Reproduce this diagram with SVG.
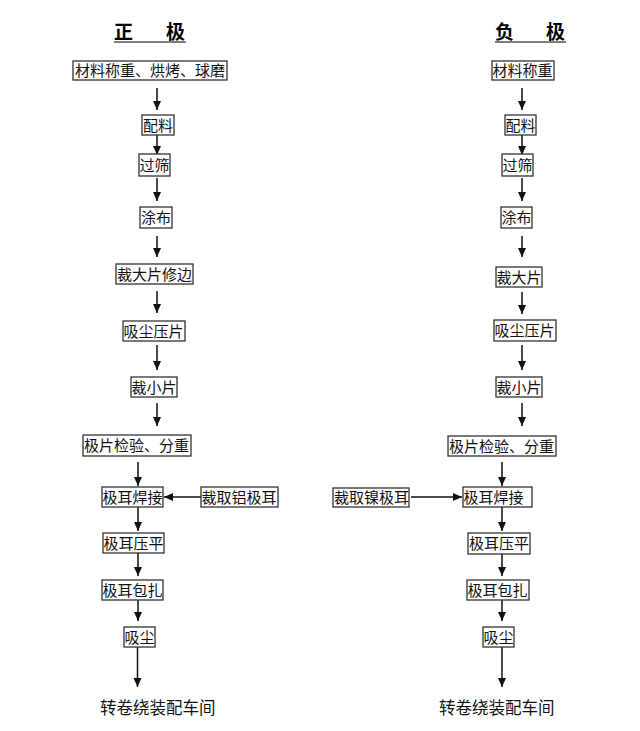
<svg xmlns="http://www.w3.org/2000/svg" width="640" height="731" viewBox="0 0 640 731">
<style>
.box{fill:#fff;stroke:#333;stroke-width:1.3}
.t{font-family:"Noto Sans CJK SC","Noto Sans CJK JP",sans-serif;font-size:15px;fill:#111}
.end{font-family:"Noto Sans CJK SC","Noto Sans CJK JP",sans-serif;font-size:16.5px;fill:#111}
.title{font-family:"Noto Sans CJK SC","Noto Sans CJK JP",sans-serif;font-size:19px;font-weight:bold;fill:#000}
.ul{stroke:#555;stroke-width:1.5}
.c{stroke:#111;stroke-width:1.5;fill:none;marker-end:url(#ah)}
</style>
<defs>
<marker id="ah" markerUnits="userSpaceOnUse" markerWidth="10" markerHeight="9" refX="9" refY="4" orient="auto">
<path d="M0,0 L9,4 L0,8 z" fill="#111"/>
</marker>
</defs>
<rect width="640" height="731" fill="#fff"/>

<g id="title-pos">
<text class="title" x="114" y="39">正</text>
<text class="title" x="166" y="39">极</text>
<line class="ul" x1="114" y1="42" x2="186" y2="42"/>
</g>
<g id="title-neg">
<text class="title" x="495" y="39">负</text>
<text class="title" x="546" y="39">极</text>
<line class="ul" x1="495" y1="42" x2="566" y2="42"/>
</g>

<g id="connectors">
<line class="c" x1="157" y1="88" x2="157" y2="110"/>
<line class="c" x1="157" y1="135" x2="157" y2="155"/>
<line class="c" x1="157" y1="178" x2="157" y2="201"/>
<line class="c" x1="157" y1="236" x2="157" y2="257"/>
<line class="c" x1="157" y1="291" x2="157" y2="313"/>
<line class="c" x1="157" y1="345" x2="157" y2="370"/>
<line class="c" x1="157" y1="403" x2="157" y2="426"/>
<line class="c" x1="138" y1="462" x2="138" y2="486"/>
<line class="c" x1="201" y1="497" x2="164" y2="497"/>
<line class="c" x1="138" y1="507" x2="138" y2="531"/>
<line class="c" x1="138" y1="553" x2="138" y2="576"/>
<line class="c" x1="138" y1="600" x2="138" y2="621"/>
<line class="c" x1="137.5" y1="645" x2="137.5" y2="687"/>

<line class="c" x1="522" y1="88" x2="522" y2="110"/>
<line class="c" x1="522" y1="135" x2="522" y2="155"/>
<line class="c" x1="522" y1="178" x2="522" y2="201"/>
<line class="c" x1="522" y1="236" x2="522" y2="257"/>
<line class="c" x1="522" y1="292" x2="522" y2="314"/>
<line class="c" x1="522" y1="345" x2="522" y2="370"/>
<line class="c" x1="522" y1="403" x2="522" y2="426"/>
<line class="c" x1="502" y1="462" x2="502" y2="486"/>
<line class="c" x1="411" y1="497" x2="462" y2="497"/>
<line class="c" x1="502" y1="507" x2="502" y2="531"/>
<line class="c" x1="502" y1="554" x2="502" y2="576"/>
<line class="c" x1="502" y1="600" x2="502" y2="621"/>
<line class="c" x1="502" y1="645" x2="502" y2="687"/>
</g>

<g id="L1"><rect class="box" x="73" y="61" width="154" height="19"/><text class="t" x="75" y="76">材料称重、烘烤、球磨</text></g>
<g id="L2"><rect class="box" x="142" y="115" width="32" height="20"/><text class="t" x="143" y="130.5">配料</text></g>
<g id="L3"><rect class="box" x="139" y="154" width="31" height="22"/><text class="t" x="139.5" y="170.5">过筛</text></g>
<g id="L4"><rect class="box" x="140" y="207" width="32" height="21"/><text class="t" x="141" y="223">涂布</text></g>
<g id="L5"><rect class="box" x="116" y="264" width="77" height="20"/><text class="t" x="117" y="279.5">裁大片修边</text></g>
<g id="L6"><rect class="box" x="123" y="321" width="62" height="20"/><text class="t" x="123.5" y="336.5">吸尘压片</text></g>
<g id="L7"><rect class="box" x="131" y="377" width="46" height="20"/><text class="t" x="131.5" y="392.5">裁小片</text></g>
<g id="L8"><rect class="box" x="83" y="435" width="108" height="21"/><text class="t" x="84" y="451">极片检验、分重</text></g>
<g id="L9"><rect class="box" x="102" y="487" width="61" height="20"/><text class="t" x="102.5" y="502.5">极耳焊接</text></g>
<g id="L10"><rect class="box" x="201" y="487" width="77" height="20"/><text class="t" x="201.5" y="502.5">裁取铝极耳</text></g>
<g id="L11"><rect class="box" x="103" y="533" width="61" height="20"/><text class="t" x="103.5" y="548.5">极耳压平</text></g>
<g id="L12"><rect class="box" x="102" y="580" width="61" height="20"/><text class="t" x="102.5" y="595.5">极耳包扎</text></g>
<g id="L13"><rect class="box" x="124" y="627" width="31" height="20"/><text class="t" x="124.5" y="642.5">吸尘</text></g>
<g id="L14"><text class="end" x="100" y="713.5">转卷绕装配车间</text></g>

<g id="R1"><rect class="box" x="492" y="61" width="62" height="19"/><text class="t" x="492.5" y="76">材料称重</text></g>
<g id="R2"><rect class="box" x="505" y="115" width="31" height="20"/><text class="t" x="505.5" y="130.5">配料</text></g>
<g id="R3"><rect class="box" x="502" y="154" width="31" height="22"/><text class="t" x="502.5" y="170.5">过筛</text></g>
<g id="R4"><rect class="box" x="501" y="207" width="31" height="21"/><text class="t" x="501.5" y="223">涂布</text></g>
<g id="R5"><rect class="box" x="496" y="267" width="46" height="20"/><text class="t" x="496.5" y="282.5">裁大片</text></g>
<g id="R6"><rect class="box" x="494" y="320" width="62" height="21"/><text class="t" x="494.5" y="336">吸尘压片</text></g>
<g id="R7"><rect class="box" x="496" y="377" width="46" height="20"/><text class="t" x="496.5" y="392.5">裁小片</text></g>
<g id="R8"><rect class="box" x="448" y="436" width="108" height="20"/><text class="t" x="449" y="451.5">极片检验、分重</text></g>
<g id="R9"><rect class="box" x="463" y="487" width="69" height="20"/><text class="t" x="463.5" y="502.5">极耳焊接</text></g>
<g id="R10"><rect class="box" x="333" y="488" width="76" height="19"/><text class="t" x="334" y="503">裁取镍极耳</text></g>
<g id="R11"><rect class="box" x="468" y="533" width="62" height="21"/><text class="t" x="469" y="549">极耳压平</text></g>
<g id="R12"><rect class="box" x="467" y="580" width="62" height="20"/><text class="t" x="467.5" y="595.5">极耳包扎</text></g>
<g id="R13"><rect class="box" x="483" y="627" width="31" height="20"/><text class="t" x="483.5" y="642.5">吸尘</text></g>
<g id="R14"><text class="end" x="439" y="713.5">转卷绕装配车间</text></g>
</svg>
